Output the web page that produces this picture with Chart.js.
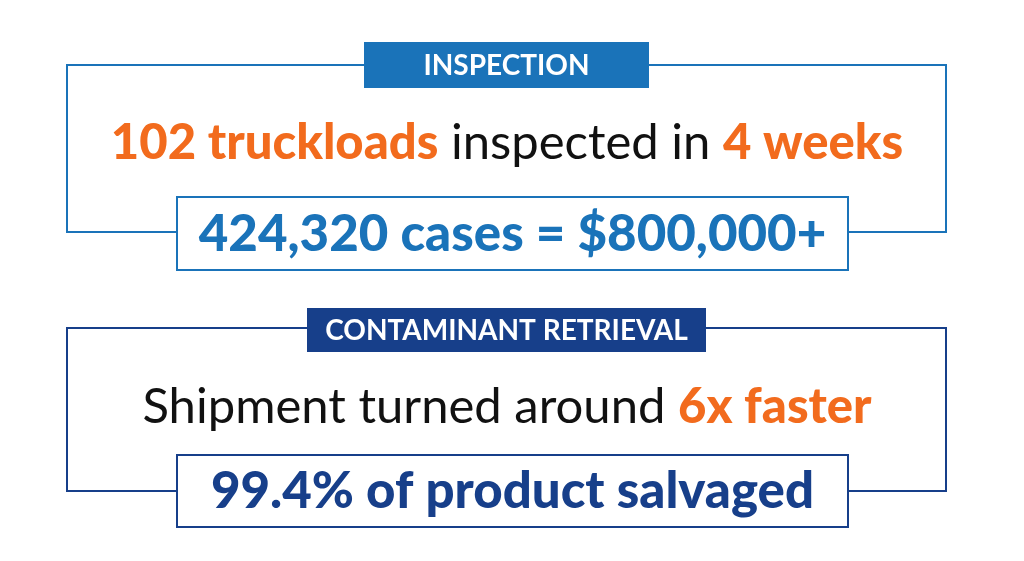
<!DOCTYPE html>
<html><head><meta charset="utf-8">
<script src="https://cdn.jsdelivr.net/npm/chart.js@4"></script>
<style>html,body{margin:0;padding:0;background:#fff}#wrap{width:1024px;height:561px}</style>
</head><body><div id="wrap"><canvas id="c"></canvas></div>
<script>
const sectionLabels = ["INSPECTION", "CONTAMINANT RETRIEVAL"];
const headlineParts = [
  [["102 truckloads", "o"], [" inspected in ", "k"], ["4 weeks", "o"]],
  [["Shipment turned around ", "k"], ["6x faster", "o"]]
];
const resultLabels = ["424,320 cases = $800,000+", "99.4% of product salvaged"];
const sectionColors = ["#1a73b9", "#173f8a"];

const F = "Lato, 'Open Sans', sans-serif";
const layout = [
  {outer:[67,65,946,232], label:[364,42,649,88], head:143, inner:[177,197,848,270]},
  {outer:[67,328,946,491], label:[307,308,706,352], head:407, inner:[177,455,848,527]}
];
const plugin = {
  id:'info',
  afterDraw(chart){
    const ctx = chart.ctx, xs = chart.scales.x, ys = chart.scales.y;
    const X = v => xs.getPixelForValue(v), Y = v => ys.getPixelForValue(v);
    layout.forEach((L,i)=>{
      const col = sectionColors[i];
      ctx.save();
      ctx.lineWidth = 2; ctx.strokeStyle = col;
      ctx.strokeRect(X(L.outer[0]),Y(L.outer[1]),X(L.outer[2])-X(L.outer[0]),Y(L.outer[3])-Y(L.outer[1]));
      ctx.fillStyle = col;
      ctx.fillRect(X(L.label[0]),Y(L.label[1]),X(L.label[2])-X(L.label[0]),Y(L.label[3])-Y(L.label[1]));
      ctx.fillStyle = '#fff'; ctx.textAlign='center'; ctx.textBaseline='middle';
      ctx.font = `bold 28px ${F}`;
      ctx.fillText(sectionLabels[i], X((L.label[0]+L.label[2])/2), Y((L.label[1]+L.label[3])/2)+1);
      const parts = headlineParts[i];
      const fonts = parts.map(p => p[1]==='o' ? `900 49px ${F}` : `400 49px ${F}`);
      let w = 0; parts.forEach((p,j)=>{ctx.font=fonts[j]; w+=ctx.measureText(p[0]).width;});
      let x = X(507) - w/2; ctx.textAlign='left';
      parts.forEach((p,j)=>{ctx.font=fonts[j]; ctx.fillStyle = p[1]==='o' ? '#f26b1d' : '#111';
        ctx.fillText(p[0], x, Y(L.head)); x += ctx.measureText(p[0]).width;});
      ctx.fillStyle='#fff';
      const r = L.inner;
      ctx.fillRect(X(r[0]),Y(r[1]),X(r[2])-X(r[0]),Y(r[3])-Y(r[1]));
      ctx.strokeRect(X(r[0]),Y(r[1]),X(r[2])-X(r[0]),Y(r[3])-Y(r[1]));
      ctx.fillStyle = col; ctx.textAlign='center'; ctx.font = `900 51px ${F}`;
      ctx.fillText(resultLabels[i], X((r[0]+r[2])/2), Y((r[1]+r[3])/2)+1);
      ctx.restore();
    });
  }
};
new Chart(document.getElementById('c'), {
  type:'scatter',
  data:{datasets:[{data:[]}]},
  options:{responsive:true, maintainAspectRatio:false, animation:false,
    layout:{padding:0},
    plugins:{legend:{display:false}, tooltip:{enabled:false}},
    scales:{x:{display:false,min:0,max:1024}, y:{display:false,min:0,max:561,reverse:true}}},
  plugins:[plugin]
});
</script></body></html>
